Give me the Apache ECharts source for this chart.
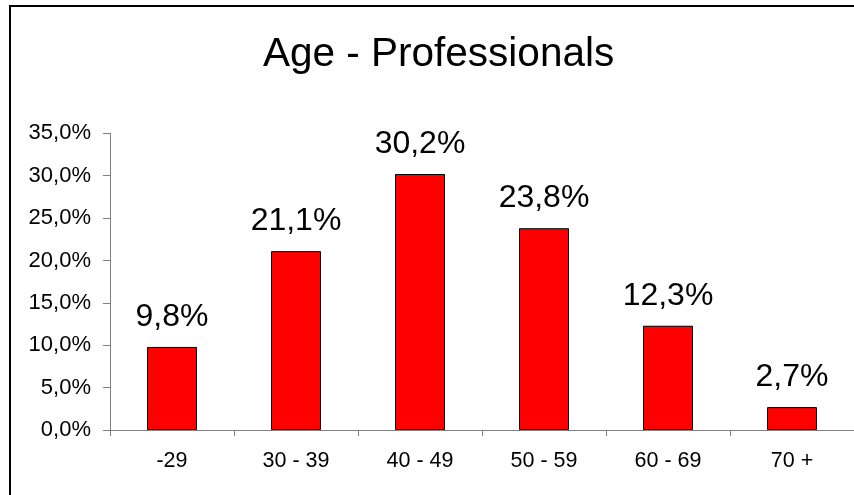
<!DOCTYPE html>
<html>
<head>
<meta charset="utf-8">
<script src="https://cdn.jsdelivr.net/npm/echarts@6/dist/echarts.min.js"></script>
<style>
  html, body { margin: 0; padding: 0; background: #fff; }
  #chart { width: 854px; height: 495px; }
</style>
</head>
<body>
<div id="chart"></div>
<script>
// Age groups and share of professionals (%)
const categories = ['-29', '30 - 39', '40 - 49', '50 - 59', '60 - 69', '70 +'];
const shares = [9.8, 21.1, 30.2, 23.8, 12.3, 2.7];
const yMin = 0;
const yMax = 35;
const yStep = 5;

const FONT = '"Liberation Sans", Arial, sans-serif';
const pct = v => v.toFixed(1).replace('.', ',') + '%';

const chart = echarts.init(document.getElementById('chart'), null, { renderer: 'canvas' });
chart.setOption({
  animation: false,
  backgroundColor: '#ffffff',
  title: {
    text: 'Age - Professionals',
    left: 258,
    top: 29,
    textStyle: { fontFamily: FONT, fontSize: 40.5, fontWeight: 'normal', color: '#000' }
  },
  graphic: [{
    type: 'rect',
    shape: { x: 10, y: 6, width: 900, height: 600 },
    style: { fill: 'none', stroke: '#000', lineWidth: 2 },
    silent: true
  }],
  grid: { left: 110, right: -4, top: 133.3, bottom: 65, containLabel: false },
  xAxis: {
    type: 'category',
    data: categories,
    axisLine: { lineStyle: { color: '#808080', width: 1 } },
    axisTick: { show: true, length: 6, alignWithLabel: false, lineStyle: { color: '#808080' } },
    axisLabel: { fontFamily: FONT, fontSize: 21.5, color: '#000', margin: 20 }
  },
  yAxis: {
    type: 'value',
    min: yMin,
    max: yMax,
    interval: yStep,
    splitLine: { show: false },
    axisLine: { show: true, lineStyle: { color: '#808080', width: 1 } },
    axisTick: { show: true, length: 7, lineStyle: { color: '#808080' } },
    axisLabel: { fontFamily: FONT, fontSize: 22, color: '#000', margin: 19, formatter: v => pct(v) }
  },
  series: [{
    type: 'bar',
    data: shares,
    barWidth: 50,
    itemStyle: { color: '#ff0000', borderColor: '#000', borderWidth: 1 },
    label: {
      show: true,
      position: 'top',
      distance: 14,
      fontFamily: FONT,
      fontSize: 32,
      color: '#000',
      formatter: p => pct(p.value)
    }
  }]
});
</script>
</body>
</html>
